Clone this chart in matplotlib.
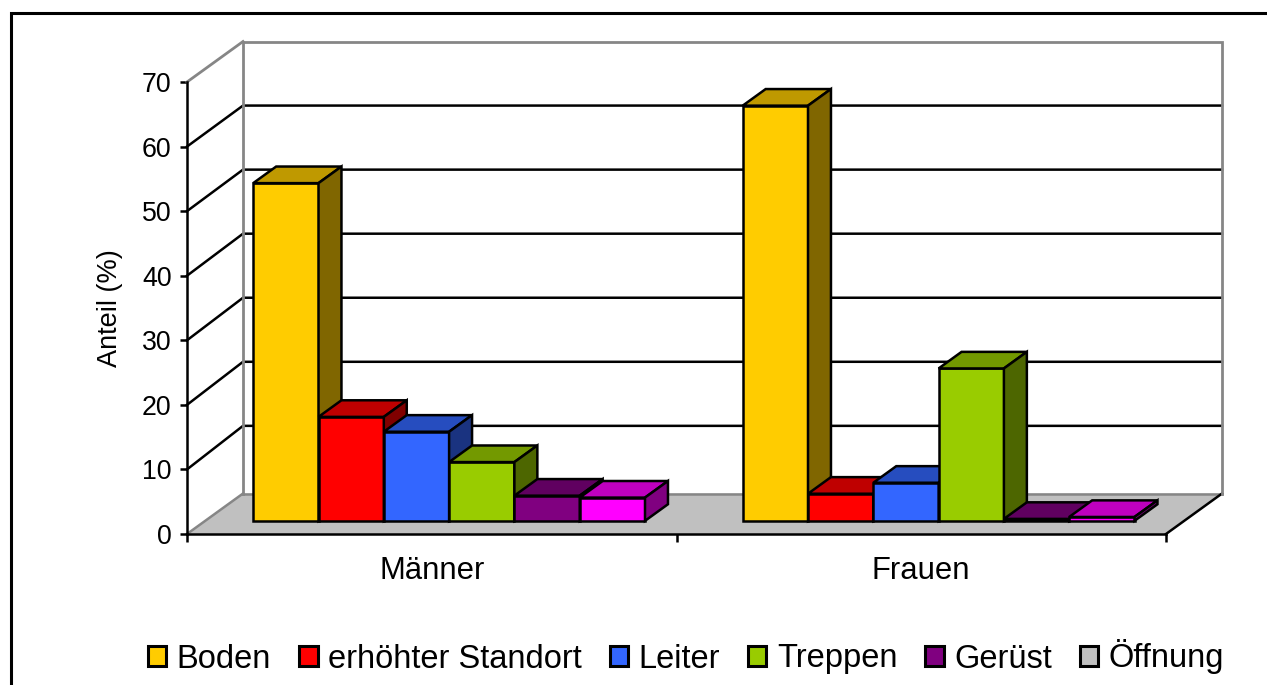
import matplotlib
matplotlib.use('Agg')
import matplotlib.pyplot as plt
from matplotlib.patches import Polygon, Patch, Rectangle
from matplotlib.colors import to_rgb

plt.rcParams['font.family'] = ['Liberation Sans', 'DejaVu Sans']

categories = ['Männer', 'Frauen']
series = ['Boden', 'erhöhter Standort', 'Leiter', 'Treppen', 'Gerüst', 'Öffnung']
maenner = [52.3, 16.1, 13.8, 9.1, 3.9, 3.6]
frauen = [64.3, 4.2, 5.9, 23.6, 0.3, 0.6]
bar_colors = ['#FFCC00', '#FF0000', '#3366FF', '#99CC00', '#800080', '#FF00FF']
legend_colors = ['#FFCC00', '#FF0000', '#3366FF', '#99CC00', '#800080', '#C0C0C0']
yticks = [0, 10, 20, 30, 40, 50, 60, 70]

W, H = 1267, 685
LW = 1.8
fig = plt.figure(figsize=(W / 100, H / 100), dpi=100)
ax = fig.add_axes([187 / W, (H - 534) / H, 979 / W, 452 / H])
ax.set_xlim(0, 2)
ax.set_ylim(0, 70)

# Tiefe der 3D-Ansicht in Datenkoordinaten
DX = 56 / 489.5
DY = 40.5 / 6.46
D0, D1 = 0.325, 0.735
GAP = 48 / 489.5
BAR_W = 65.3 / 489.5
GRID_BACK = 0.992  # Rueckwand etwas enger als die Vorderkante


def pr(x, v, d):
    return (x + d * DX, v + d * DY)


def shade(c, f):
    return tuple(f * i for i in to_rgb(c))


def poly(pts, fc, ec='black', z=3, lw=LW):
    ax.add_patch(Polygon(pts, closed=True, facecolor=fc, edgecolor=ec, lw=lw,
                         zorder=z, clip_on=False, joinstyle='miter'))


# Boden
poly([pr(0, 0, 0), pr(2, 0, 0), pr(2, 0, 1), pr(0, 0, 1)], '#C0C0C0', ec='none', z=1)
ax.plot(*zip(pr(0, 0, 1), pr(2, 0, 1)), color='#868686', lw=LW, zorder=1.5, clip_on=False)
ax.plot(*zip(pr(0, 0, 0), pr(0, 0, 1)), color='#868686', lw=LW, zorder=1.5, clip_on=False)
ax.plot(*zip(pr(2, 0, 0), pr(2, 0, 1)), color='black', lw=LW, zorder=1.5, clip_on=False)

# Gitterlinien an Seiten- und Rueckwand
for t in yticks[1:-1]:
    tb = 70 - (70 - t) * GRID_BACK
    ax.plot(*zip(pr(0, t, 0), pr(0, tb, 1), pr(2, tb, 1)), color='black', lw=LW,
            zorder=1.5, clip_on=False, solid_joinstyle='miter')

# Wandkanten
ax.plot(*zip(pr(0, 0, 1), pr(0, 70, 1), pr(2, 70, 1), pr(2, 0, 1)), color='#868686',
        lw=LW + 0.2, zorder=2, clip_on=False, solid_joinstyle='miter')
ax.plot(*zip(pr(0, 70, 0), pr(0, 70, 1)), color='#868686', lw=LW + 0.2, zorder=2, clip_on=False)

# Saeulen
for c, values in enumerate([maenner, frauen]):
    for i, v in enumerate(values):
        x0 = c + GAP + i * BAR_W
        x1 = x0 + BAR_W
        col = bar_colors[i]
        poly([pr(x0, 0, D0), pr(x1, 0, D0), pr(x1, v, D0), pr(x0, v, D0)], col, z=3 + i)
        poly([pr(x0, v, D0), pr(x1, v, D0), pr(x1, v, D1), pr(x0, v, D1)], shade(col, 0.75), z=3 + i)
        poly([pr(x1, 0, D0), pr(x1, 0, D1), pr(x1, v, D1), pr(x1, v, D0)], shade(col, 0.5), z=3 + i)

# Achsen
for s in ['top', 'right']:
    ax.spines[s].set_visible(False)
for s in ['left', 'bottom']:
    ax.spines[s].set_linewidth(LW)
    ax.spines[s].set_zorder(10)
ax.patch.set_visible(False)
ax.set_yticks(yticks)
ax.set_xticks([0, 1, 2])
ax.set_xticklabels([])
ax.set_xticks([0.5, 1.5], minor=True)
ax.set_xticklabels(categories, minor=True, fontsize=22.3)
ax.tick_params(axis='x', which='major', length=5.5, width=LW)
ax.tick_params(axis='x', which='minor', length=0, pad=16)
ax.tick_params(axis='y', length=5, width=LW, labelsize=19.3, pad=6)
ax.set_ylabel('Anteil (%)', fontsize=19.5, labelpad=14)

handles = [Patch(facecolor=c, edgecolor='black', lw=LW + 0.4) for c in legend_colors]
fig.legend(handles, series, ncol=6, frameon=False, fontsize=23.5, loc='center',
           bbox_to_anchor=(686 / W, 1 - 657 / H), handlelength=0.57, handleheight=0.57,
           handletextpad=0.32, columnspacing=0.85, borderpad=0, borderaxespad=0)

# Rahmen, rechts und unten ausserhalb des Bildes
fig.add_artist(Rectangle((10.5 / W, -0.1), (W + 20) / W, 0.1 + (H - 12.5) / H,
                         transform=fig.transFigure, fill=False, edgecolor='black', lw=2.2))

fig.savefig('out.png', dpi=100)
